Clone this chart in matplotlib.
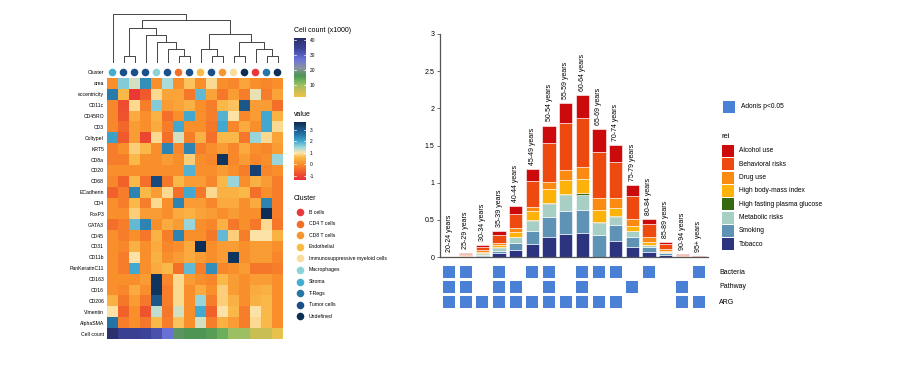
import matplotlib
matplotlib.use("Agg")
import matplotlib.pyplot as plt
import numpy as np
from matplotlib.colors import LinearSegmentedColormap
from matplotlib.patches import Rectangle

plt.rcParams["font.family"] = ["Liberation Sans", "DejaVu Sans"]

# ---------------------------------------------------------------------------
# Data: left heatmap
# ---------------------------------------------------------------------------
markers = [
    "area", "eccentricity", "CD11c", "CD45RO", "CD3", "ColtypeI", "KRT5",
    "CD8a", "CD20", "CD68", "ECadherin", "CD4", "FoxP3", "GATA3", "CD45",
    "CD31", "CD11b", "PanKeratinC11", "CD163", "CD16", "CD206", "Vimentin",
    "AlphaSMA",
]
heat_values = [
    [0.0, 1.6, 1.2, 2.3, 0.0, 1.4, 0.0, 0.7, 0.0, 0.9, 0.0, -0.1, 0.3, 0.0, -0.1, 0.0],
    [2.5, 0.6, -1.2, -0.7, 0.9, 0.3, 0.3, -0.3, 1.8, 0.3, -0.3, 0.2, -0.2, 1.1, -0.2, 0.3],
    [-0.1, -0.9, 0.9, -0.2, 1.6, 0.2, 0.3, 0.5, 0.0, -0.2, 0.6, 0.7, 3.0, 0.2, 0.2, -0.4],
    [-0.1, -0.8, 0.4, 0.0, 0.5, -0.4, 0.0, 2.0, 0.0, -0.2, 1.9, 1.0, -0.1, 0.2, 2.0, 0.5],
    [-0.1, -0.5, 0.2, 0.0, 0.4, -0.2, 2.0, 0.0, 0.0, -0.3, 2.0, -0.1, 0.4, 0.0, 2.0, 0.9],
    [2.1, -0.7, 0.2, -1.0, 0.9, -0.4, 1.2, -0.2, 0.5, -0.4, 0.6, 0.6, -0.3, 1.5, 0.9, 0.3],
    [-0.2, 0.0, 0.8, 0.6, 0.0, 2.4, -0.1, 2.4, -0.2, 0.0, 0.2, -0.1, 0.4, 0.0, -0.1, 0.2],
    [-0.2, -0.2, 0.6, 0.0, 0.0, 0.2, 0.0, 0.8, 0.0, -0.1, 3.5, -0.1, 0.2, -0.1, 0.0, 1.5],
    [0.0, 0.0, 0.0, 0.0, 0.0, 0.0, 0.0, 1.9, 0.0, 0.0, 0.2, 0.0, -0.2, 3.3, -0.1, 0.0],
    [-0.1, -0.6, 0.6, -0.4, 3.2, -0.3, 0.6, 0.2, 0.2, -0.1, 0.6, 1.5, 0.0, 0.5, 0.2, -0.2],
    [-0.6, -0.2, 2.4, 0.6, 0.2, 0.9, -0.4, 2.0, -0.3, 0.9, 0.5, 0.5, 0.6, -0.4, 0.0, -0.2],
    [0.0, -0.2, 0.6, -0.2, 0.9, 0.0, 2.4, 0.2, 0.2, -0.1, 0.4, 0.4, 0.0, 0.4, 2.4, -0.2],
    [0.0, 0.0, 0.8, 0.2, 0.2, 0.0, 0.4, 0.5, 0.3, 0.2, 0.0, 0.2, 0.0, 0.0, 3.6, -0.2],
    [-0.4, -0.2, 1.8, 2.4, 0.0, 0.4, 0.2, 1.5, 0.0, -0.1, 0.5, -0.3, 0.0, -0.3, 0.9, -0.3],
    [0.0, -0.2, 0.0, -0.3, 0.5, -0.2, 2.4, 0.0, 0.0, -0.3, 1.8, 0.8, -0.2, 1.0, 1.0, 0.5],
    [0.0, -0.1, 0.5, 0.0, 0.4, -0.1, 0.0, 0.4, 3.6, 0.0, 0.2, 0.2, 0.0, 0.2, 0.2, 0.0],
    [0.0, -0.2, 1.0, 0.0, 0.5, 0.0, 0.2, 0.4, 0.2, 0.0, 0.2, 3.5, 0.0, 0.2, 0.2, -0.1],
    [0.0, -0.2, 2.0, 0.0, 0.4, 0.6, -0.4, 1.8, -0.2, 2.3, -0.1, 0.0, 0.2, -0.3, -0.3, -0.2],
    [0.0, 0.0, 0.0, 0.2, 3.5, -0.1, 0.9, 0.2, 0.0, -0.1, 0.6, 0.2, 0.0, 0.2, 0.2, 0.0],
    [0.0, -0.1, 0.4, 0.0, 3.5, -0.2, 0.9, 0.0, 0.4, 0.0, 0.8, 0.2, 0.0, 0.4, 0.5, 0.0],
    [0.5, -0.3, 0.2, -0.3, 3.0, -0.2, 0.9, 0.0, 1.5, -0.2, 0.8, 0.5, 0.0, 0.5, 0.6, 0.0],
    [1.0, -0.6, 0.0, -0.8, 1.3, -0.3, 1.2, 0.0, 2.0, -0.6, 1.0, 0.6, -0.2, 1.0, 0.6, 0.0],
    [2.6, -0.2, 0.0, -0.3, 0.6, -0.2, 0.7, 0.0, 1.2, -0.2, 0.5, 0.2, -0.2, 0.9, 0.6, 0.0],
]
cell_count = [40, 35, 35, 34, 32, 27, 17, 16, 16, 15, 13, 10, 10, 6, 6, 3]

cluster_names = [
    "B cells", "CD4 T cells", "CD8 T cells", "Endothelial",
    "Immunosuppressive myeloid cells", "Macrophages", "Stroma", "T-Regs",
    "Tumor cells", "Undefined",
]
cluster_colors = [
    "#E8393A", "#F36E27", "#F7962F", "#FBBB45", "#FCDC9E",
    "#8CD3D9", "#45ADD0", "#2678A6", "#1C508A", "#0D2E55",
]
column_cluster = [
    "Stroma", "Tumor cells", "Tumor cells", "Tumor cells", "Macrophages",
    "Tumor cells", "CD4 T cells", "Tumor cells", "Endothelial", "Tumor cells",
    "CD8 T cells", "Immunosuppressive myeloid cells", "Undefined", "B cells",
    "T-Regs", "Undefined",
]

# dendrogram merges: (child a, child b, height); leaves are 0..15
merges = [
    (6, 7, 22), (5, 16, 42), (4, 17, 63), (3, 18, 85), (1, 2, 22),
    (20, 19, 105), (9, 10, 22), (8, 22, 42), (11, 12, 22), (14, 15, 22),
    (13, 25, 42), (24, 26, 63), (23, 27, 87), (21, 28, 128), (0, 29, 148),
]

# ---------------------------------------------------------------------------
# Data: right stacked bars
# ---------------------------------------------------------------------------
age_groups = [
    "20-24 years", "25-29 years", "30-34 years", "35-39 years", "40-44 years",
    "45-49 years", "50-54 years", "55-59 years", "60-64 years", "65-69 years",
    "70-74 years", "75-79 years", "80-84 years", "85-89 years", "90-94 years",
    "95+ years",
]
tobacco = [0.002, 0.003, 0.01, 0.049, 0.094, 0.175, 0.265, 0.309, 0.318, 0.0, 0.215, 0.139, 0.072, 0.027, 0.002, 0.0005]
smoking = [0.002, 0.004, 0.015, 0.036, 0.09, 0.18, 0.278, 0.309, 0.314, 0.291, 0.215, 0.135, 0.058, 0.022, 0.003, 0.0005]
metabolic = [0.002, 0.004, 0.02, 0.04, 0.08, 0.13, 0.175, 0.215, 0.206, 0.17, 0.112, 0.072, 0.027, 0.013, 0.003, 0.0005]
glucose = [0.0, 0.001, 0.003, 0.004, 0.009, 0.013, 0.013, 0.013, 0.018, 0.013, 0.013, 0.009, 0.005, 0.002, 0.0, 0.0]
bmi = [0.002, 0.006, 0.02, 0.027, 0.067, 0.12, 0.179, 0.188, 0.193, 0.157, 0.108, 0.067, 0.045, 0.018, 0.004, 0.0005]
drug = [0.002, 0.006, 0.02, 0.031, 0.045, 0.058, 0.103, 0.135, 0.157, 0.157, 0.126, 0.09, 0.058, 0.022, 0.005, 0.001]
behavioral = [0.004, 0.015, 0.045, 0.103, 0.2, 0.35, 0.525, 0.628, 0.668, 0.628, 0.489, 0.309, 0.179, 0.067, 0.015, 0.003]
alcohol = [0.003, 0.01, 0.027, 0.054, 0.099, 0.157, 0.229, 0.278, 0.305, 0.305, 0.233, 0.143, 0.067, 0.027, 0.008, 0.001]

rei_names = [
    "Alcohol use", "Behavioral risks", "Drug use", "High body-mass index",
    "High fasting plasma glucose", "Metabolic risks", "Smoking", "Tobacco",
]
rei_colors = ["#CC0A0C", "#EE4A10", "#FA8A10", "#FDB20A", "#356A10", "#A8CFC6", "#5E93B5", "#2C3480"]
# top -> bottom, same order as the legend
stack = [alcohol, behavioral, drug, bmi, glucose, metabolic, smoking, tobacco]

tile_rows = ["Bacteria", "Pathway", "ARG"]
bacteria = [1, 1, 0, 1, 0, 1, 1, 0, 1, 1, 1, 0, 1, 0, 0, 1]
pathway = [1, 1, 0, 1, 1, 0, 1, 0, 1, 0, 0, 1, 0, 0, 1, 0]
arg = [1, 1, 1, 1, 1, 1, 1, 1, 1, 1, 1, 0, 0, 0, 1, 1]
tile_color = "#4A80D6"

# ---------------------------------------------------------------------------
# Colour scales
# ---------------------------------------------------------------------------
vmin, vmax = -1.35, 3.65
value_nodes = [
    (-1.35, "#E8303A"), (-0.7, "#F15A2B"), (0.0, "#F98F2A"), (0.6, "#FBB949"),
    (1.0, "#FDE3A7"), (1.4, "#A9DCDC"), (2.0, "#43A9D0"), (2.6, "#2474A5"),
    (3.2, "#174A7C"), (3.65, "#0C2B52"),
]
value_cmap = LinearSegmentedColormap.from_list(
    "value", [((v - vmin) / (vmax - vmin), c) for v, c in value_nodes])

cmin, cmax = 2, 41
count_nodes = [
    (2, "#F0C24A"), (6, "#C9BE55"), (10, "#9DC064"), (13, "#6CB05E"),
    (16, "#4E9452"), (21, "#8A94A0"), (27, "#6A72D8"), (34, "#3C4499"),
    (41, "#2A2E66"),
]
count_cmap = LinearSegmentedColormap.from_list(
    "count", [((v - cmin) / (cmax - cmin), c) for v, c in count_nodes])

# ---------------------------------------------------------------------------
# Figure
# ---------------------------------------------------------------------------
W, H = 900, 383
fig = plt.figure(figsize=(9, 3.83), dpi=100)


def px_axes(x0, y0, x1, y1):
    return fig.add_axes([x0 / W, 1 - y1 / H, (x1 - x0) / W, (y1 - y0) / H])


over = px_axes(0, 0, W, H)
over.set_xlim(0, W)
over.set_ylim(H, 0)
over.axis("off")

ncol = len(cell_count)
HX0, HX1 = 107, 283

# --- dendrogram
ax_d = px_axes(HX0, 13, HX1, 63)
pos = {i: float(i) for i in range(ncol)}
hgt = {i: 0.0 for i in range(ncol)}
for k, (a, b, h) in enumerate(merges):
    node = ncol + k
    xa, xb = pos[a], pos[b]
    ax_d.plot([xa, xa, xb, xb], [hgt[a], h, h, hgt[b]], color="#444444", lw=0.7)
    pos[node] = (xa + xb) / 2
    hgt[node] = h
ax_d.set_xlim(-0.5, ncol - 0.5)
ax_d.set_ylim(0, 150)
ax_d.axis("off")

# --- cluster annotation
ax_c = px_axes(HX0, 67, HX1, 78)
ccols = [cluster_colors[cluster_names.index(c)] for c in column_cluster]
ax_c.scatter(np.arange(ncol), np.zeros(ncol), s=30, c=ccols, linewidths=0)
ax_c.set_xlim(-0.5, ncol - 0.5)
ax_c.set_ylim(-0.5, 0.5)
ax_c.axis("off")
over.text(104, 72.5, "Cluster", ha="right", va="center", fontsize=3.7)

# --- main heatmap
ax_h = px_axes(HX0, 78, HX1, 328)
ax_h.imshow(np.array(heat_values), cmap=value_cmap, vmin=vmin, vmax=vmax,
            aspect="auto", interpolation="nearest")
ax_h.set_xticks([])
ax_h.set_yticks(range(len(markers)))
ax_h.set_yticklabels(markers, fontsize=3.7)
ax_h.tick_params(axis="y", length=0, pad=2)
for s in ax_h.spines.values():
    s.set_visible(False)

# --- cell count row
ax_n = px_axes(HX0, 328, HX1, 339)
ax_n.imshow(np.array([cell_count]), cmap=count_cmap, vmin=cmin, vmax=cmax,
            aspect="auto", interpolation="nearest")
ax_n.set_xticks([])
ax_n.set_yticks([0])
ax_n.set_yticklabels(["Cell count"], fontsize=3.7)
ax_n.tick_params(axis="y", length=0, pad=2)
for s in ax_n.spines.values():
    s.set_visible(False)


def gradient_bar(x0, y0, x1, y1, cmap, lo, hi, ticks):
    ax = px_axes(x0, y0, x1, y1)
    grad = np.linspace(lo, hi, 256).reshape(-1, 1)
    ax.imshow(grad, cmap=cmap, vmin=lo, vmax=hi, aspect="auto",
              origin="lower", extent=[0, 1, lo, hi])
    ax.set_xlim(0, 1)
    ax.set_ylim(lo, hi)
    ax.set_xticks([])
    ax.yaxis.tick_right()
    ax.set_yticks(ticks)
    ax.set_yticklabels([str(t) for t in ticks], fontsize=3.5)
    ax.tick_params(axis="y", length=0, pad=2.5)
    for t in ticks:
        ax.plot([0, 0.2], [t, t], color="white", lw=0.5)
        ax.plot([0.8, 1], [t, t], color="white", lw=0.5)
    for s in ax.spines.values():
        s.set_visible(False)
    return ax


over.text(294, 31, "Cell count (x1000)", ha="left", va="center", fontsize=5)
gradient_bar(294, 38, 306, 97, count_cmap, cmin, cmax, [10, 20, 30, 40])
over.text(294, 115, "value", ha="left", va="center", fontsize=5)
gradient_bar(294, 122, 306, 180, value_cmap, vmin, vmax, [-1, 0, 1, 2, 3])

over.text(294, 199, "Cluster", ha="left", va="center", fontsize=5)
for k, (name, col) in enumerate(zip(cluster_names, cluster_colors)):
    y = 212 + 11.6 * k
    over.scatter([300], [y], s=30, color=col, linewidths=0)
    over.text(309, y, name, ha="left", va="center", fontsize=3.7)

# --- stacked bars (drawn bottom -> top: Tobacco first)
ax_b = px_axes(440, 34, 708, 257)
x = np.arange(len(age_groups))
bottom = np.zeros(len(age_groups))
for vals, col in zip(stack[::-1], rei_colors[::-1]):
    ax_b.bar(x, vals, bottom=bottom, width=0.8, color=col,
             edgecolor="white", linewidth=0.4)
    bottom += np.array(vals)
for xi, top, lab in zip(x, bottom, age_groups):
    ax_b.annotate(lab, (xi, top), xytext=(0, 3), textcoords="offset points",
                  rotation=90, ha="center", va="bottom", fontsize=5)
ax_b.set_xlim(-0.55, len(age_groups) - 0.45)
ax_b.set_ylim(0, 3)
ax_b.set_yticks([0, 0.5, 1, 1.5, 2, 2.5, 3])
ax_b.set_yticklabels(["0", "0.5", "1", "1.5", "2", "2.5", "3"], fontsize=5)
ax_b.set_xticks([])
ax_b.tick_params(axis="y", length=2.5, width=0.6, color="#555555", pad=1.5)
for side in ("top", "right"):
    ax_b.spines[side].set_visible(False)
for side in ("left", "bottom"):
    ax_b.spines[side].set_color("#555555")
    ax_b.spines[side].set_linewidth(0.9)

# --- significance tiles
ax_t = px_axes(440, 264.5, 708, 309.5)
for r, flags in enumerate([bacteria, pathway, arg]):
    for xi, f in zip(x, flags):
        if f:
            ax_t.add_patch(Rectangle((xi - 0.36, r - 0.4), 0.72, 0.8,
                                     color=tile_color, linewidth=0))
ax_t.set_xlim(-0.55, len(age_groups) - 0.45)
ax_t.set_ylim(2.5, -0.5)
ax_t.axis("off")
for r, name in enumerate(tile_rows):
    over.text(719, 272 + 15 * r, name, ha="left", va="center", fontsize=5)

# --- right legends
over.add_patch(Rectangle((723, 101), 12, 12, color=tile_color, linewidth=0))
over.text(741, 107, "Adonis p<0.05", ha="left", va="center", fontsize=4.8)
over.text(721, 136, "rei", ha="left", va="center", fontsize=5.5)
for k, (name, col) in enumerate(zip(rei_names, rei_colors)):
    y = 151 + 13.3 * k
    over.add_patch(Rectangle((722, y - 6), 12, 12, color=col, linewidth=0))
    over.text(739, y, name, ha="left", va="center", fontsize=4.8)

fig.savefig("out.png", dpi=100)
